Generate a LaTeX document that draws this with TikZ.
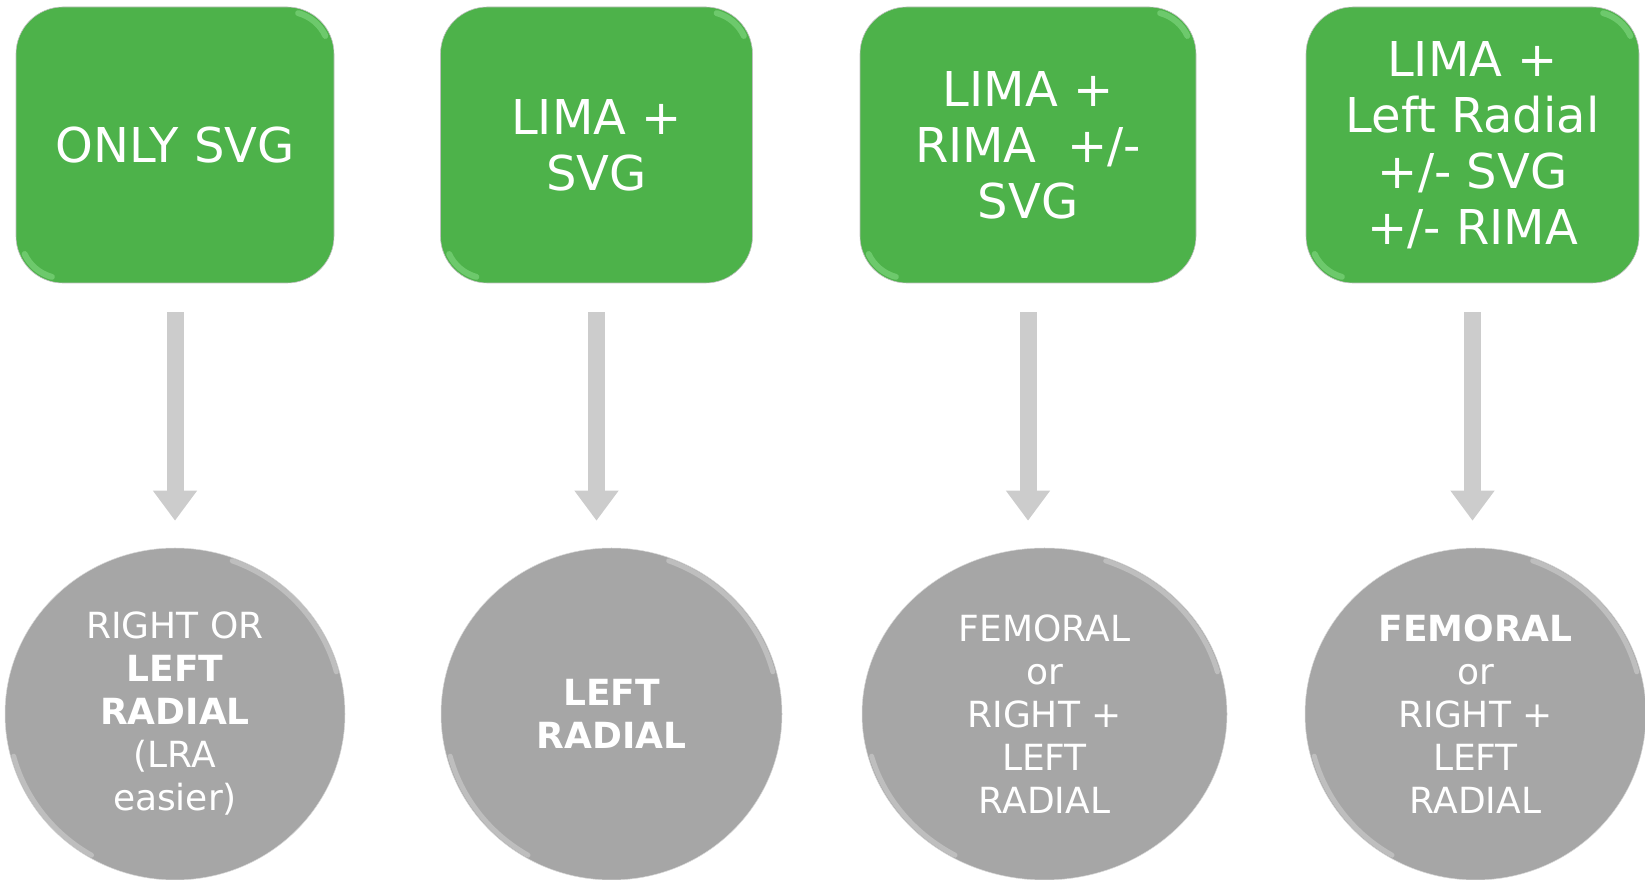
\documentclass[tikz,border=0pt]{standalone}
\usepackage{fontspec}
\setmainfont{DejaVu Sans}
\usetikzlibrary{shapes.geometric,arrows.meta}
\definecolor{boxgreen}{RGB}{77,178,74}
\definecolor{hlgreen}{RGB}{150,230,150}
\definecolor{circgray}{RGB}{166,166,166}
\definecolor{hlgray}{RGB}{210,210,210}
\definecolor{arrgray}{RGB}{204,204,204}
\tikzset{
  topbox/.style={rectangle, rounded corners=47pt, fill=boxgreen, draw=black!25, line width=0.6pt,
    minimum height=276pt, text=white, align=center, inner sep=0pt,
    font=\fontsize{48}{56}\selectfont},
  botcirc/.style={ellipse, fill=circgray, draw=black!15, line width=0.5pt, minimum height=332pt,
    text=white, align=center, inner sep=0pt, font=\fontsize{36}{43}\selectfont},
  bigarrow/.style={draw=arrgray, line width=17pt, -{Triangle[width=42pt,length=30pt]}},
  boxhl/.style={draw=hlgreen, line width=6pt, line cap=round, opacity=0.45},
  circhl/.style={draw=hlgray, line width=5pt, line cap=round, opacity=0.55}
}
\begin{document}
\begin{tikzpicture}[x=1pt,y=1pt]
\useasboundingbox (0,0) rectangle (1645,880);
% top boxes
\node[topbox, minimum width=318pt] (b1) at (175,735) {ONLY SVG};
\node[topbox, minimum width=312pt] (b2) at (596.5,735) {LIMA +\\SVG};
\node[topbox, minimum width=336pt] (b3) at (1028,735) {LIMA +\\RIMA\ \ +/-\\SVG};
\node[topbox, minimum width=333pt] (b4) at (1472.5,735) {LIMA +\\Left Radial\\+/- SVG\\+/- RIMA};
% bottom circles
\node[botcirc, minimum width=340pt] (c1) at (175,166) {RIGHT OR\\\textbf{LEFT}\\\textbf{RADIAL}\\(LRA\\easier)};
\node[botcirc, minimum width=341pt] (c2) at (611.5,166) {\textbf{LEFT}\\\textbf{RADIAL}};
\node[botcirc, minimum width=365pt] (c3) at (1044.5,166) {FEMORAL\\or\\RIGHT +\\LEFT\\RADIAL};
\node[botcirc, minimum width=341pt] (c4) at (1475.5,166) {\textbf{FEMORAL}\\or\\RIGHT +\\LEFT\\RADIAL};
% glossy highlights on boxes
\foreach \b in {b1,b2,b3,b4}{
  \draw[boxhl] ([shift={(-47pt,-47pt)}]\b.north east) ++(75:42pt) arc[start angle=75, end angle=25, radius=42pt];
  \draw[boxhl] ([shift={(47pt,47pt)}]\b.south west) ++(255:42pt) arc[start angle=255, end angle=205, radius=42pt];
}
% glossy highlights on circles
\foreach \c/\rx in {c1/167,c2/167,c3/179,c4/167}{
  \draw[circhl] ([shift={(70:\rx pt and 163pt)}]\c.center) arc[start angle=70, end angle=15, x radius=\rx pt, y radius=163pt];
  \draw[circhl] ([shift={(195:\rx pt and 163pt)}]\c.center) arc[start angle=195, end angle=240, x radius=\rx pt, y radius=163pt];
}
% arrows
\foreach \i in {1,2,3,4}{
  \draw[bigarrow] ([yshift=-29pt]b\i.south) -- ([yshift=27pt]b\i.south |- c\i.north);
}
\end{tikzpicture}
\end{document}
